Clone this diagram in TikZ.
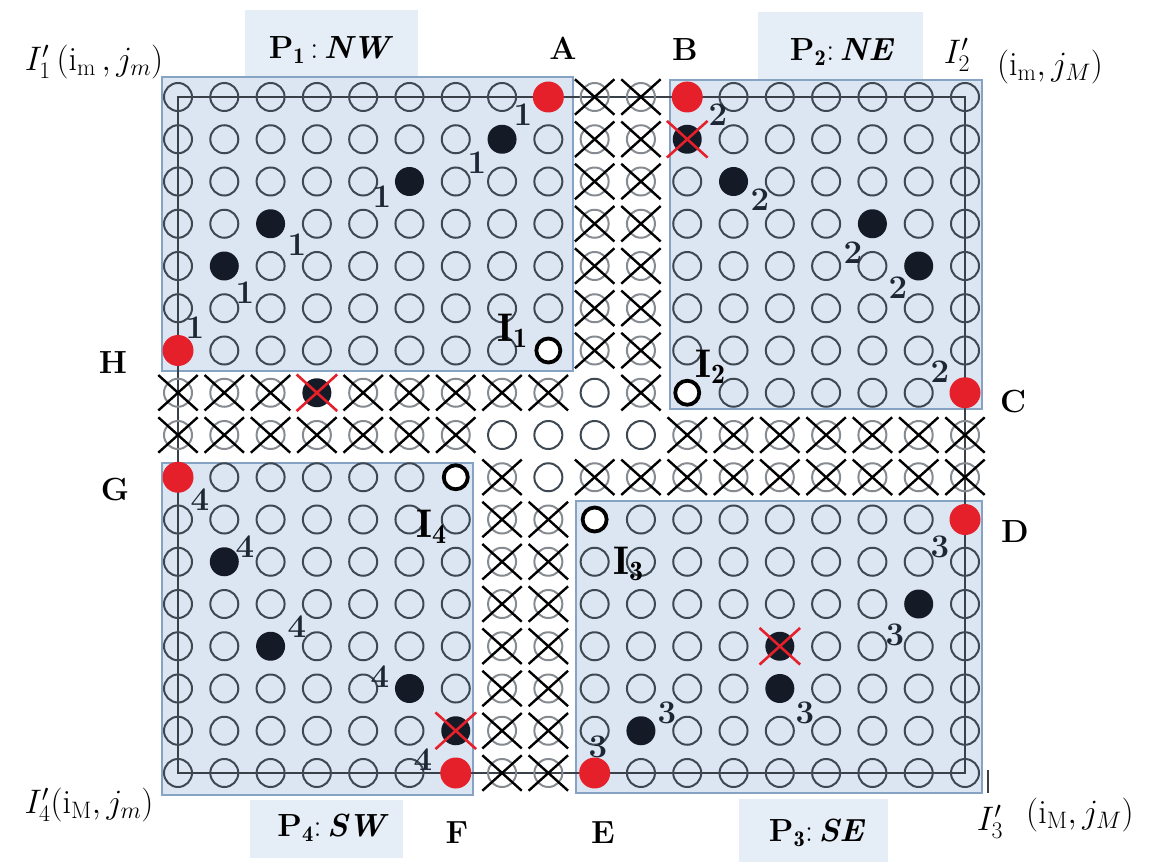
\RequirePackage{fix-cm}
\documentclass[tikz,border=0pt]{standalone}
\usepackage{fontspec}
\usetikzlibrary{shapes.misc}
\definecolor{regfill}{HTML}{DCE6F2}
\definecolor{regline}{HTML}{87A3C4}
\definecolor{labfill}{HTML}{E5EDF6}
\definecolor{circline}{HTML}{3E4852}
\definecolor{xcirc}{HTML}{868B91}
\definecolor{dotblack}{HTML}{151B26}
\definecolor{dotred}{HTML}{E5202A}
\definecolor{numcol}{HTML}{1E2636}
\definecolor{framecol}{HTML}{3A4048}
\newcommand\setcell[3]{\expandafter\gdef\csname cell#1-#2-#3\endcsname{}}
\begin{document}
\begin{tikzpicture}[x=1pt,y=-1pt,
  region/.style={draw=regline, fill=regfill, line width=1.4, inner sep=0},
  labbox/.style={fill=labfill, inner sep=0},
  ocircle/.style={circle, draw=circline, line width=2, minimum size=28, inner sep=0},
  xcircle/.style={ocircle, draw=xcirc},
  xmark/.style={cross out, draw=black, line width=2.4, minimum width=37, minimum height=33, inner sep=0},
  blackdot/.style={circle, fill=dotblack, minimum size=29, inner sep=0},
  reddot/.style={circle, fill=dotred, minimum size=31, inner sep=0},
  ring/.style={circle, draw=black, fill=white, line width=3.8, minimum size=24, inner sep=0},
  redx/.style={cross out, draw=dotred, line width=2.6, minimum width=38, minimum height=34, inner sep=0},
  lab/.style={font=\fontsize{32}{34}\selectfont\bfseries, inner sep=0},
  plab/.style={font=\fontsize{32}{34}\selectfont, inner sep=0},
  ilab/.style={font=\fontsize{40}{42}\selectfont, inner sep=0, anchor=base west},
  num/.style={text=numcol, font=\fontsize{33}{35}\selectfont\bfseries, inner sep=0},
  corner/.style={font=\fontsize{34}{36}\selectfont, inner sep=0}]
\useasboundingbox (0,0) rectangle (1154,864);
% ---------- cell classification
\foreach \i in {9,10} {\foreach \j in {0,...,6} {\setcell{X}{\i}{\j}}}
\foreach \i in {0,1,2,4,5,6,7,8,10} {\setcell{X}{\i}{7}}
\foreach \i in {0,...,6,11,12,...,17} {\setcell{X}{\i}{8}}
\foreach \i in {7,9,10,...,17} {\setcell{X}{\i}{9}}
\foreach \i in {7,8} {\foreach \j in {10,...,16} {\setcell{X}{\i}{\j}}}
\foreach \i/\j in {8/0,0/6,7/1,5/2,2/3,1/4,11/0,17/7,11/1,12/2,15/3,16/4,
  17/10,9/16,16/12,13/13,13/14,10/15,0/9,6/16,1/11,2/13,5/14,6/15,3/7,
  8/6,11/7,9/10,6/9} {\setcell{S}{\i}{\j}}
% ---------- label boxes
\node[labbox, minimum width=173, minimum height=66] (b1) at (331.5,43) {};
\node[labbox, minimum width=165, minimum height=67] (b2) at (840.5,45.5) {};
\node[labbox, minimum width=153, minimum height=58] (b4) at (326.5,829) {};
\node[labbox, minimum width=149, minimum height=63] (b3) at (813.5,830.5) {};
% ---------- regions
\node[region, minimum width=411, minimum height=294] (P1) at (367.5,224) {};
\node[region, minimum width=312, minimum height=329] (P2) at (826,244.5) {};
\node[region, minimum width=406, minimum height=292] (P3) at (779,647) {};
\node[region, minimum width=311, minimum height=332] (P4) at (317.5,629) {};
% ---------- frame
\coordinate (fTL) at (178,97);
\coordinate (fBR) at (965,773);
\draw[framecol, line width=2] (fTL) rectangle (fBR);
% ---------- grid
\foreach \i in {0,...,17} {\foreach \j in {0,...,16} {%
  \ifcsname cellS-\i-\j\endcsname
    \coordinate (g-\i-\j) at ({178+46.294*\i},{97+42.25*\j});
  \else\ifcsname cellX-\i-\j\endcsname
    \node[xcircle] (g-\i-\j) at ({178+46.294*\i},{97+42.25*\j}) {};
    \node[xmark] (x-\i-\j) at (g-\i-\j) {};
  \else
    \node[ocircle] (g-\i-\j) at ({178+46.294*\i},{97+42.25*\j}) {};
  \fi\fi}}
% ---------- red dots
\node[reddot] (dA) at (g-8-0) {};
\node[reddot] (dB) at (g-11-0) {};
\node[reddot] (dC) at (g-17-7) {};
\node[reddot] (dD) at (g-17-10) {};
\node[reddot] (dE) at (g-9-16) {};
\node[reddot] (dF) at (g-6-16) {};
\node[reddot] (dG) at (g-0-9) {};
\node[reddot] (dH) at (g-0-6) {};
% ---------- black dots
\foreach \i/\j in {7/1,5/2,2/3,1/4,12/2,15/3,16/4,16/12,13/14,10/15,1/11,2/13,5/14}
  {\node[blackdot] (k-\i-\j) at (g-\i-\j) {};}
% ---------- crossed-out black dots
\foreach \i/\j in {11/1,3/7,13/13,6/15}
  {\node[blackdot] (k-\i-\j) at (g-\i-\j) {};
   \node[redx] (r-\i-\j) at (g-\i-\j) {};}
% ---------- rings
\node[ring] (I1) at (g-8-6) {};
\node[ring] (I2) at (g-11-7) {};
\node[ring] (I3) at (g-9-10) {};
\node[ring] (I4) at (g-6-9) {};
\node[ilab] (tI1) at (497,341) {$\mathbf{I}_{\mathbf{1}}$};
\node[ilab] (tI2) at (695,377) {$\mathbf{I}_{\mathbf{2}}$};
\node[ilab] (tI3) at (613,574) {$\mathbf{I}_{\mathbf{3}}$};
\node[ilab] (tI4) at (416,537) {$\mathbf{I}_{\mathbf{4}}$};
% ---------- step numbers
\foreach [count=\k] \p in {(523,115),(477,163),(382,197),(297,245),(245,293),(195,328)}
  {\node[num] (n1-\k) at \p {1};}
\foreach [count=\k] \p in {(718,115),(760,200),(853,253),(898,288),(940,372)}
  {\node[num] (n2-\k) at \p {2};}
\foreach [count=\k] \p in {(940,547),(895,635),(805,713),(667,713),(598,747)}
  {\node[num] (n3-\k) at \p {3};}
\foreach [count=\k] \p in {(200,500),(245,547),(297,627),(380,677),(423,760)}
  {\node[num] (n4-\k) at \p {4};}
% ---------- letters
\node[lab] (lA) at (563,48) {A};
\node[lab] (lB) at (685,50) {B};
\node[lab] (lC) at (1013,402) {C};
\node[lab] (lD) at (1015,532) {D};
\node[lab] (lE) at (603,833) {E};
\node[lab] (lF) at (457,833) {F};
\node[lab] (lG) at (115,490) {G};
\node[lab] (lH) at (113,363) {H};
% ---------- partition labels
\node[plab] (t1) at (331,50) {\textbf{P}$_{\mathbf{1}}$\,:\,\textbf{\textit{NW}}};
\node[plab] (t2) at (842,52) {\textbf{P}$_{\mathbf{2}}$:\,\textbf{\textit{NE}}};
\node[plab] (t4) at (333,828) {\textbf{P}$_{\mathbf{4}}$:\,\textbf{\textit{SW}}};
\node[plab] (t3) at (817,833) {\textbf{P}$_{\mathbf{3}}$:\,\textbf{\textit{SE}}};
% ---------- corner labels
\node[corner] (c1) at (94,62) {$I'_1\,(\mathrm{i_m}\,, j_m)$};
\node[corner] (c2a) at (957,55) {$I'_2$};
\node[corner] (c2b) at (1050,67) {$(\mathrm{i_m}, j_M)$};
\node[corner] (c4) at (89,805) {$I'_4(\mathrm{i_M}, j_m)$};
\node[corner] (c3a) at (990,822) {$I'_3$};
\node[corner] (c3b) at (1080,815) {$(\mathrm{i_M}, j_M)$};
\coordinate (tk1) at (988,770);
\coordinate (tk2) at (988,793);
\draw[framecol, line width=1.5] (tk1) -- (tk2);
\end{tikzpicture}
\end{document}
